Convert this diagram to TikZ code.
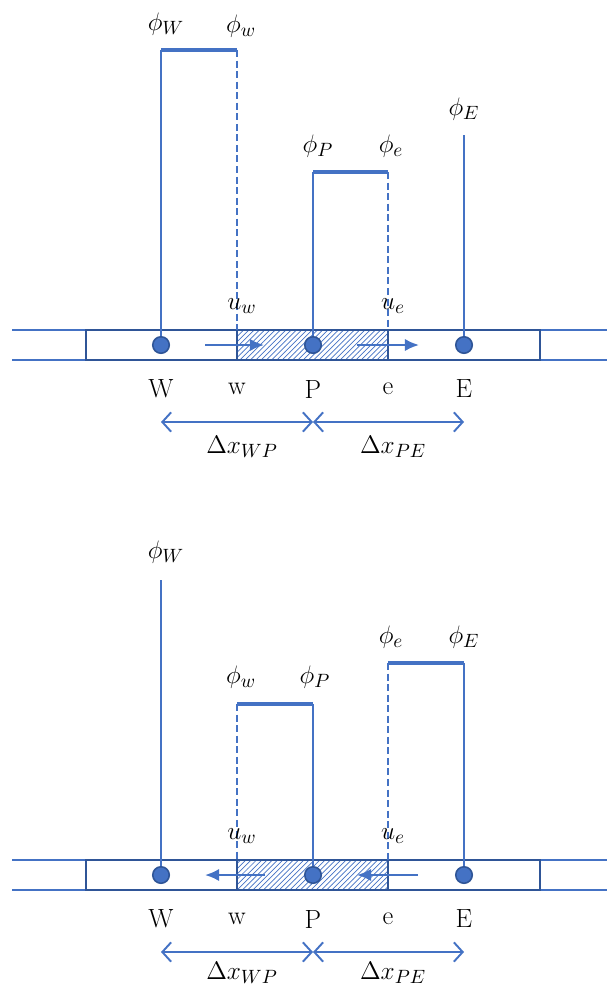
\documentclass[tikz,border=0pt]{standalone}
\usepackage{amsmath}
\usepackage{xcolor}
\usepackage{tikz}
\usetikzlibrary{positioning,arrows.meta,patterns}

\definecolor{lineblue}{HTML}{4472C4}
\definecolor{darkblue}{HTML}{2F5597}

\begin{document}
\begin{tikzpicture}[
    x=0.02cm, y=-0.02cm,
    dot/.style={
        circle,
        draw=darkblue,
        fill=lineblue,
        line width=0.9pt,
        minimum size=0.33cm,
        inner sep=0pt
    },
    lbl/.style={font=\fontsize{15}{18}\selectfont, inner sep=1pt},
    rail/.style={lineblue, line width=1.3pt},
    cell/.style={darkblue, line width=1.3pt},
    wire/.style={lineblue, line width=1pt},
    level/.style={lineblue, line width=1.8pt},
    face/.style={lineblue, line width=1pt, dash pattern=on 4pt off 2pt},
    flow/.style={-{Latex[length=8pt,width=7pt]}, lineblue, line width=1.3pt},
    span/.style={{Straight Barb[length=5pt,width=11pt]}-{Straight Barb[length=5pt,width=11pt]}, lineblue, line width=1.1pt}
]
\useasboundingbox (0,0) rectangle (607,990);

% ---------- upper panel: flow to the right ----------
\fill[pattern=north east lines, pattern color=lineblue] (237,330) rectangle (388,360);
\draw[rail] (12,330) -- (607,330);
\draw[rail] (12,360) -- (607,360);
\draw[cell] (86,330) rectangle (540,360);
\draw[cell] (237,330) -- (237,360);
\draw[cell] (388,330) -- (388,360);

\node[dot] (Wa) at (161,345) {};
\node[dot] (Pa) at (313,345) {};
\node[dot] (Ea) at (464,345) {};

\coordinate (Wtopa) at (161,50);
\coordinate (wtopa) at (237,50);
\coordinate (wfacea) at (237,330);
\coordinate (Ptopa) at (313,172);
\coordinate (etopa) at (388,172);
\coordinate (efacea) at (388,330);
\coordinate (Etopa) at (464,135);

\draw[wire] (Wa) -- (Wtopa);
\draw[level] (Wtopa) -- (wtopa);
\draw[face] (wtopa) -- (wfacea);
\draw[wire] (Pa) -- (Ptopa);
\draw[level] (Ptopa) -- (etopa);
\draw[face] (etopa) -- (efacea);
\draw[wire] (Ea) -- (Etopa);

\node[lbl] (phiWa) at (166,24) {$\phi_W$};
\node[lbl] (phiwa) at (241,26) {$\phi_w$};
\node[lbl] (phiPa) at (318,146) {$\phi_P$};
\node[lbl] (phiea) at (391,146) {$\phi_e$};
\node[lbl] (phiEa) at (464,109) {$\phi_E$};

\coordinate (uwsa) at (205,345);
\coordinate (uwea) at (264,345);
\coordinate (uesa) at (357,345);
\coordinate (ueea) at (419,345);
\draw[flow] (uwsa) -- (uwea);
\draw[flow] (uesa) -- (ueea);
\node[lbl] (uwa) at (242,306) {$u_w$};
\node[lbl] (uea) at (393,306) {$u_e$};

\node[lbl] (nWa) at (161,389) {W};
\node[lbl] (nwa) at (237,389) {w};
\node[lbl] (nPa) at (313,389) {P};
\node[lbl] (nea) at (388,389) {e};
\node[lbl] (nEa) at (464,389) {E};

\coordinate (dWa) at (161,422);
\coordinate (dPa) at (313,422);
\coordinate (dEa) at (464,422);
\draw[span] (dWa) -- (dPa);
\draw[span] (dPa) -- (dEa);
\node[lbl] (dxWPa) at (242,447) {$\Delta x_{WP}$};
\node[lbl] (dxPEa) at (393,447) {$\Delta x_{PE}$};

% ---------- lower panel: flow to the left ----------
\fill[pattern=north east lines, pattern color=lineblue] (237,860) rectangle (388,890);
\draw[rail] (12,860) -- (607,860);
\draw[rail] (12,890) -- (607,890);
\draw[cell] (86,860) rectangle (540,890);
\draw[cell] (237,860) -- (237,890);
\draw[cell] (388,860) -- (388,890);

\node[dot] (Wb) at (161,875) {};
\node[dot] (Pb) at (313,875) {};
\node[dot] (Eb) at (464,875) {};

\coordinate (Wtopb) at (161,580);
\coordinate (wtopb) at (237,704);
\coordinate (wfaceb) at (237,860);
\coordinate (Ptopb) at (313,704);
\coordinate (etopb) at (388,663);
\coordinate (efaceb) at (388,860);
\coordinate (Etopb) at (464,663);

\draw[wire] (Wb) -- (Wtopb);
\draw[face] (wtopb) -- (wfaceb);
\draw[level] (wtopb) -- (Ptopb);
\draw[wire] (Pb) -- (Ptopb);
\draw[face] (etopb) -- (efaceb);
\draw[level] (etopb) -- (Etopb);
\draw[wire] (Eb) -- (Etopb);

\node[lbl] (phiWb) at (166,552) {$\phi_W$};
\node[lbl] (phiwb) at (241,677) {$\phi_w$};
\node[lbl] (phiPb) at (315,677) {$\phi_P$};
\node[lbl] (phieb) at (391,637) {$\phi_e$};
\node[lbl] (phiEb) at (464,637) {$\phi_E$};

\coordinate (uwsb) at (265,875);
\coordinate (uweb) at (205,875);
\coordinate (uesb) at (418,875);
\coordinate (ueeb) at (357,875);
\draw[flow] (uwsb) -- (uweb);
\draw[flow] (uesb) -- (ueeb);
\node[lbl] (uwb) at (242,836) {$u_w$};
\node[lbl] (ueb) at (393,836) {$u_e$};

\node[lbl] (nWb) at (161,919) {W};
\node[lbl] (nwb) at (237,919) {w};
\node[lbl] (nPb) at (313,919) {P};
\node[lbl] (neb) at (388,919) {e};
\node[lbl] (nEb) at (464,919) {E};

\coordinate (dWb) at (161,952);
\coordinate (dPb) at (313,952);
\coordinate (dEb) at (464,952);
\draw[span] (dWb) -- (dPb);
\draw[span] (dPb) -- (dEb);
\node[lbl] (dxWPb) at (242,973) {$\Delta x_{WP}$};
\node[lbl] (dxPEb) at (393,973) {$\Delta x_{PE}$};

\end{tikzpicture}
\end{document}
